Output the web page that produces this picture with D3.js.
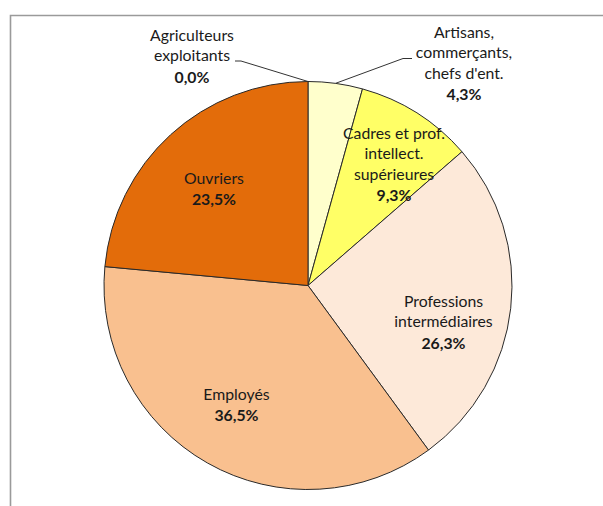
<!DOCTYPE html>
<html>
<head>
<meta charset="utf-8">
<script src="https://cdn.jsdelivr.net/npm/d3@7/dist/d3.min.js"></script>
<style>
  html, body { margin: 0; padding: 0; background: #ffffff; }
  svg { display: block; }
  text { font-family: Lato, "Open Sans", sans-serif; fill: #1a1a1a; }
</style>
</head>
<body>
<svg id="chart" width="603" height="506"></svg>
<script>
// Répartition par catégorie socioprofessionnelle (%)
const categories = [
  "Agriculteurs exploitants",
  "Artisans, commerçants, chefs d'ent.",
  "Cadres et prof. intellect. supérieures",
  "Professions intermédiaires",
  "Employés",
  "Ouvriers"
];
const values = [0.0, 4.3, 9.3, 26.3, 36.5, 23.5];
const labelLines = [
  ["Agriculteurs", "exploitants"],
  ["Artisans,", "commerçants,", "chefs d'ent."],
  ["Cadres et prof.", "intellect.", "supérieures"],
  ["Professions", "intermédiaires"],
  ["Employés"],
  ["Ouvriers"]
];
const colors = ["#f6c7a0", "#ffffcc", "#ffff66", "#fde9d9", "#f9c08f", "#e36c0a"];

const svg = d3.select("#chart");
const W = 603, H = 506;

// chart frame (top and left edges visible)
svg.append("path")
  .attr("d", `M10.5,${H} V15.5 H${W}`)
  .attr("fill", "none")
  .attr("stroke", "#9a9a9a")
  .attr("stroke-width", 1.6);

const cx = 308, cy = 285.5, R = 204;
const g = svg.append("g").attr("transform", `translate(${cx},${cy})`);

const pie = d3.pie().sort(null).value(d => d)(values);
const arc = d3.arc().innerRadius(0).outerRadius(R);
const edge = d3.arc().innerRadius(R).outerRadius(R);

g.selectAll("path.slice")
  .data(pie)
  .join("path")
  .attr("class", "slice")
  .attr("d", arc)
  .attr("fill", (d, i) => colors[i])
  .attr("stroke", "#2a2a2a")
  .attr("stroke-width", 1)
  .attr("stroke-linejoin", "round");

const fmt = v => d3.format(".1f")(v).replace(".", ",") + "%";

// label placement (centre x, first line y), relative to the chart
const place = [
  { x: 192, y: 35, lead: [[235, 61], [241, 61]] },
  { x: 464, y: 32, lead: [[412, 58.5], [403, 58.5]] },
  { x: 394, y: 133 },
  { x: 443.5, y: 301 },
  { x: 236.5, y: 394 },
  { x: 214, y: 178 }
];
const lineH = 20.8;

// leader lines for the two outside labels
pie.forEach((d, i) => {
  const p = place[i];
  if (!p.lead) return;
  const [ex, ey] = edge.centroid(d);
  const pts = p.lead.concat([[cx + ex, cy + ey]]);
  svg.append("path")
    .attr("d", d3.line()(pts))
    .attr("fill", "none")
    .attr("stroke", "#333")
    .attr("stroke-width", 1);
});

pie.forEach((d, i) => {
  const p = place[i];
  const t = svg.append("text")
    .attr("text-anchor", "middle")
    .attr("font-size", 15.8);
  const lines = labelLines[i];
  lines.forEach((ln, k) => {
    t.append("tspan")
      .attr("x", p.x)
      .attr("y", p.y + k * lineH)
      .attr("dy", "0.35em")
      .text(ln);
  });
  t.append("tspan")
    .attr("x", p.x)
    .attr("y", p.y + lines.length * lineH + 0.5)
    .attr("dy", "0.35em")
    .attr("font-weight", "bold")
    .text(fmt(values[i]));
});
</script>
</body>
</html>
